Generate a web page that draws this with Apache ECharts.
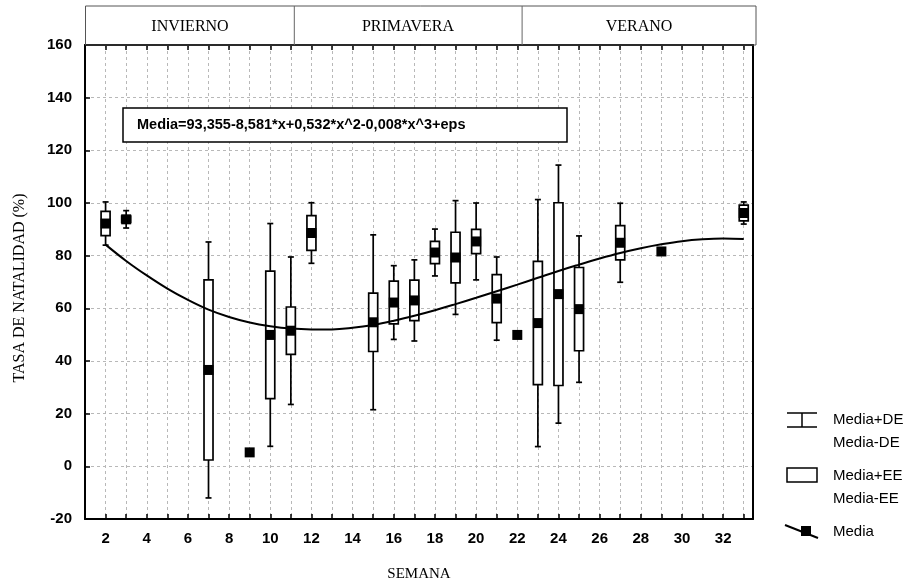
<!DOCTYPE html>
<html>
<head>
<meta charset="utf-8">
<script src="https://cdn.jsdelivr.net/npm/echarts@6/dist/echarts.min.js"></script>
<style>
  html, body { margin: 0; padding: 0; background: #fff; }
  #chart { width: 918px; height: 586px; }
</style>
</head>
<body>
<div id="chart"></div>
<script>
// ---- data ----
const weeks = [2, 3, 7, 9, 10, 11, 12, 15, 16, 17, 18, 19, 20, 21, 22, 23, 24, 25, 27, 29, 33];
const means = [92.2, 93.8, 36.6, 5.3, 49.9, 51.5, 88.6, 54.7, 62.2, 63.0, 81.2, 79.3, 85.4, 63.7, 49.9, 54.4, 65.4, 59.7, 84.9, 81.6, 96.2];
const se    = [4.6, 1.2, 34.2, null, 24.2, 9.0, 6.6, 11.1, 8.1, 7.7, 4.2, 9.6, 4.6, 9.1, null, 23.4, 34.7, 15.8, 6.5, null, 3.0];
const sd    = [8.2, 3.3, 48.6, null, 42.3, 28.0, 11.5, 33.2, 14.0, 15.4, 8.9, 21.6, 14.6, 15.8, null, 46.9, 49.0, 27.8, 15.0, null, 4.2];

const curveX = [2, 3, 4, 5, 6, 7, 8, 9, 10, 11, 12, 13, 14, 15, 16, 17, 18, 19, 20, 21, 22, 23, 24, 25, 26, 27, 28, 29, 30, 31, 32, 33];
const curveY = [84.2, 78.0, 72.5, 67.5, 63.2, 59.5, 56.7, 54.6, 53.2, 52.3, 52.0, 52.0, 52.6, 53.7, 55.3, 57.2, 59.3, 61.6, 64.0, 66.5, 69.0, 71.6, 74.2, 76.6, 78.9, 81.0, 82.8, 84.3, 85.5, 86.2, 86.5, 86.3];

const xTickLabels = [2, 4, 6, 8, 10, 12, 14, 16, 18, 20, 22, 24, 26, 28, 30, 32];
const seasons = ['INVIERNO', 'PRIMAVERA', 'VERANO'];
const equation = 'Media=93,355-8,581*x+0,532*x^2-0,008*x^3+eps';
const legendLabels = ['Media+DE', 'Media-DE', 'Media+EE', 'Media-EE', 'Media'];

// ---- chart ----
const chart = echarts.init(document.getElementById('chart'), null, { renderer: 'canvas' });

const boxData = weeks.map((w, i) => [w, means[i], se[i], sd[i]]);
const meanData = weeks.map((w, i) => [w, means[i]]);
const curveData = curveX.map((x, i) => [x, curveY[i]]);

const SANS = '"Liberation Sans", Arial, sans-serif';
const SERIF = '"Liberation Serif", "Times New Roman", serif';

function renderBox(params, api) {
  const x = api.value(0), m = api.value(1), e = api.value(2), d = api.value(3);
  const children = [];
  const style = { stroke: '#000', lineWidth: 1.7, fill: null };
  if (!isNaN(d) && d > 0) {
    const top = api.coord([x, m + d]);
    const bot = api.coord([x, m - d]);
    children.push({ type: 'line', shape: { x1: top[0], y1: top[1], x2: bot[0], y2: bot[1] }, style: style });
    children.push({ type: 'line', shape: { x1: top[0] - 3, y1: top[1], x2: top[0] + 3, y2: top[1] }, style: style });
    children.push({ type: 'line', shape: { x1: bot[0] - 3, y1: bot[1], x2: bot[0] + 3, y2: bot[1] }, style: style });
  }
  if (!isNaN(e) && e > 0) {
    const t = api.coord([x, m + e]);
    const b = api.coord([x, m - e]);
    children.push({ type: 'rect', shape: { x: t[0] - 4.5, y: t[1], width: 9, height: b[1] - t[1] },
      style: { stroke: '#000', lineWidth: 1.7, fill: '#fff' } });
  }
  return { type: 'group', children: children };
}

const option = {
  animation: false,
  backgroundColor: '#fff',
  grid: { left: 85, right: 165, top: 45, bottom: 67, show: false },
  xAxis: [
    {
      type: 'value', position: 'bottom', min: 1, max: 33.45, interval: 1,
      axisLine: { show: true, onZero: false, lineStyle: { color: '#000', width: 2 } },
      axisTick: { show: true, inside: true, length: 5, lineStyle: { color: '#000', width: 1.5 } },
      axisLabel: {
        show: true, margin: 12, color: '#000', fontFamily: SANS, fontWeight: 'bold', fontSize: 15,
        showMinLabel: true, showMaxLabel: false,
        formatter: v => (xTickLabels.indexOf(v) >= 0 ? String(v) : '')
      },
      splitLine: { show: true, lineStyle: { color: '#b8b8b8', type: [3, 3], width: 1 } }
    },
    {
      type: 'value', position: 'top', min: 1, max: 33.45, interval: 1,
      axisLine: { show: true, onZero: false, lineStyle: { color: '#000', width: 2 } },
      axisTick: { show: true, inside: true, length: 5, lineStyle: { color: '#000', width: 1.5 } },
      axisLabel: { show: false },
      splitLine: { show: false }
    }
  ],
  yAxis: [
    {
      type: 'value', position: 'left', min: -20, max: 160, interval: 20,
      axisLine: { show: true, onZero: false, lineStyle: { color: '#000', width: 2 } },
      axisTick: { show: true, inside: true, length: 5, lineStyle: { color: '#000', width: 1.5 } },
      axisLabel: { margin: 13, color: '#000', fontFamily: SANS, fontWeight: 'bold', fontSize: 15 },
      splitLine: { show: true, lineStyle: { color: '#b8b8b8', type: [3, 3], width: 1 } }
    },
    {
      type: 'value', position: 'right', min: -20, max: 160, interval: 20,
      axisLine: { show: true, onZero: false, lineStyle: { color: '#000', width: 2 } },
      axisTick: { show: false }, axisLabel: { show: false }, splitLine: { show: false }
    }
  ],
  series: [
    {
      type: 'custom', name: 'boxes', xAxisIndex: 0, yAxisIndex: 0, z: 2,
      renderItem: renderBox, data: boxData, clip: false
    },
    {
      type: 'line', name: 'curve', xAxisIndex: 0, yAxisIndex: 0, z: 3,
      data: curveData, smooth: 0.4, symbol: 'none',
      lineStyle: { color: '#000', width: 2 }
    },
    {
      type: 'scatter', name: 'Media', xAxisIndex: 0, yAxisIndex: 0, z: 4,
      data: meanData, symbol: 'rect', symbolSize: 10,
      itemStyle: { color: '#000', opacity: 1 }
    }
  ],
  graphic: [
    // season header
    { type: 'rect', shape: { x: 85.5, y: 6, width: 670.5, height: 39 }, style: { fill: 'none', stroke: '#555', lineWidth: 1 }, z: 10 },
    { type: 'line', shape: { x1: 294.3, y1: 6, x2: 294.3, y2: 45 }, style: { stroke: '#666', lineWidth: 1 }, z: 10 },
    { type: 'line', shape: { x1: 522.1, y1: 6, x2: 522.1, y2: 45 }, style: { stroke: '#666', lineWidth: 1 }, z: 10 },
    { type: 'text', x: 190, y: 27, style: { text: seasons[0], font: '16px ' + SERIF, fill: '#000', textAlign: 'center', textVerticalAlign: 'middle' }, z: 10 },
    { type: 'text', x: 408, y: 27, style: { text: seasons[1], font: '16px ' + SERIF, fill: '#000', textAlign: 'center', textVerticalAlign: 'middle' }, z: 10 },
    { type: 'text', x: 639, y: 27, style: { text: seasons[2], font: '16px ' + SERIF, fill: '#000', textAlign: 'center', textVerticalAlign: 'middle' }, z: 10 },
    // equation box
    { type: 'rect', shape: { x: 123, y: 108, width: 444, height: 34 }, style: { fill: '#fff', stroke: '#000', lineWidth: 1.5 }, z: 10 },
    { type: 'text', x: 137, y: 125, style: { text: equation, font: 'bold 14.5px ' + SANS, fill: '#000', textAlign: 'left', textVerticalAlign: 'middle' }, z: 11 },
    // axis titles
    { type: 'text', x: 20, y: 288, rotation: Math.PI / 2, style: { text: 'TASA DE NATALIDAD (%)', font: '16px ' + SERIF, fill: '#000', textAlign: 'center', textVerticalAlign: 'middle' }, z: 10 },
    { type: 'text', x: 419, y: 574, style: { text: 'SEMANA', font: '15px ' + SERIF, fill: '#000', textAlign: 'center', textVerticalAlign: 'middle' }, z: 10 },
    // legend: DE
    { type: 'line', shape: { x1: 787, y1: 413, x2: 817, y2: 413 }, style: { stroke: '#000', lineWidth: 1.5 }, z: 10 },
    { type: 'line', shape: { x1: 787, y1: 427, x2: 817, y2: 427 }, style: { stroke: '#000', lineWidth: 1.5 }, z: 10 },
    { type: 'line', shape: { x1: 802, y1: 413, x2: 802, y2: 427 }, style: { stroke: '#000', lineWidth: 1.5 }, z: 10 },
    { type: 'text', x: 833, y: 420, style: { text: legendLabels[0], font: '15px ' + SANS, fill: '#000', textVerticalAlign: 'middle' }, z: 10 },
    { type: 'text', x: 833, y: 443, style: { text: legendLabels[1], font: '15px ' + SANS, fill: '#000', textVerticalAlign: 'middle' }, z: 10 },
    // legend: EE
    { type: 'rect', shape: { x: 787, y: 468, width: 30, height: 14 }, style: { fill: '#fff', stroke: '#000', lineWidth: 1.5 }, z: 10 },
    { type: 'text', x: 833, y: 476, style: { text: legendLabels[2], font: '15px ' + SANS, fill: '#000', textVerticalAlign: 'middle' }, z: 10 },
    { type: 'text', x: 833, y: 499, style: { text: legendLabels[3], font: '15px ' + SANS, fill: '#000', textVerticalAlign: 'middle' }, z: 10 },
    // legend: Media
    { type: 'line', shape: { x1: 785, y1: 525, x2: 818, y2: 538 }, style: { stroke: '#000', lineWidth: 2 }, z: 10 },
    { type: 'rect', shape: { x: 801, y: 526, width: 10, height: 10 }, style: { fill: '#000' }, z: 11 },
    { type: 'text', x: 833, y: 532, style: { text: legendLabels[4], font: '15px ' + SANS, fill: '#000', textVerticalAlign: 'middle' }, z: 10 }
  ]
};

chart.setOption(option);
</script>
</body>
</html>
